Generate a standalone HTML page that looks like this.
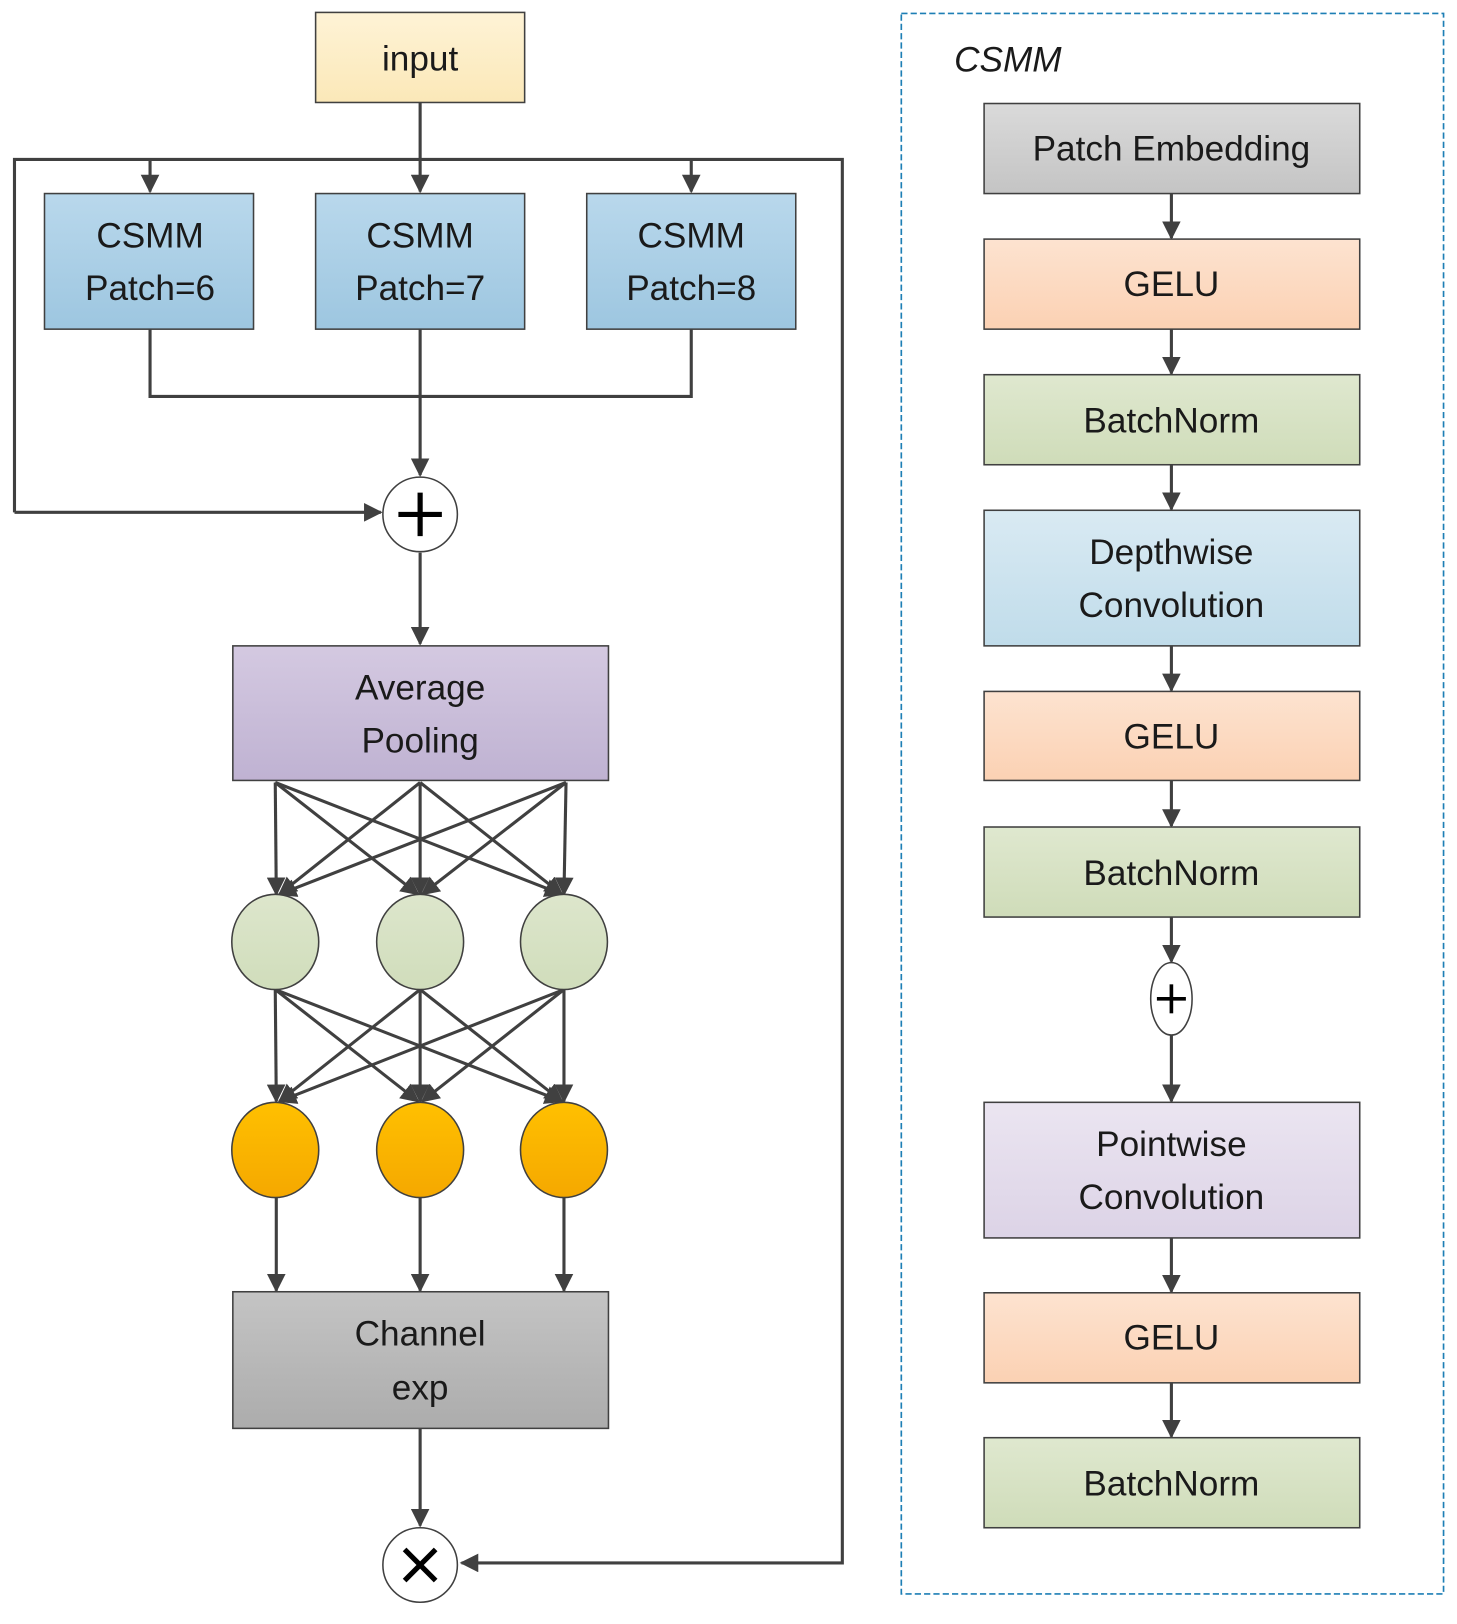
<!DOCTYPE html>
<html><head><meta charset="utf-8"><style>html,body{margin:0;padding:0;background:#fff}svg{display:block}</style></head><body>
<svg width="1457" height="1624" viewBox="0 0 1408 1569" preserveAspectRatio="none" xmlns="http://www.w3.org/2000/svg" font-family="Liberation Sans, sans-serif">
<defs>
<marker id="a" viewBox="0 0 10 10" refX="9" refY="5" markerWidth="7" markerHeight="7" markerUnits="userSpaceOnUse" orient="auto"><path d="M0,0 L10,5 L0,10 z" fill="#404040"/></marker>
<marker id="b" viewBox="0 0 10 10" refX="9" refY="5" markerWidth="18" markerHeight="18" markerUnits="userSpaceOnUse" orient="auto"><path d="M0,0 L10,5 L0,10 z" fill="#404040"/></marker>
<linearGradient id="gy" x1="0" y1="0" x2="0" y2="1"><stop offset="0" stop-color="#fef3d6"/><stop offset="1" stop-color="#fbe8b8"/></linearGradient>
<linearGradient id="gb" x1="0" y1="0" x2="0" y2="1"><stop offset="0" stop-color="#b9d8ec"/><stop offset="1" stop-color="#9dc6e0"/></linearGradient>
<linearGradient id="gp" x1="0" y1="0" x2="0" y2="1"><stop offset="0" stop-color="#d4c9e1"/><stop offset="1" stop-color="#bfb2d2"/></linearGradient>
<linearGradient id="gg" x1="0" y1="0" x2="0" y2="1"><stop offset="0" stop-color="#dde6cc"/><stop offset="1" stop-color="#d0ddbb"/></linearGradient>
<linearGradient id="go" x1="0" y1="0" x2="0" y2="1"><stop offset="0" stop-color="#ffc000"/><stop offset="1" stop-color="#f5a800"/></linearGradient>
<linearGradient id="gc" x1="0" y1="0" x2="0" y2="1"><stop offset="0" stop-color="#c4c4c4"/><stop offset="1" stop-color="#acacac"/></linearGradient>
<linearGradient id="gpe" x1="0" y1="0" x2="0" y2="1"><stop offset="0" stop-color="#dadada"/><stop offset="1" stop-color="#c4c4c4"/></linearGradient>
<linearGradient id="gge" x1="0" y1="0" x2="0" y2="1"><stop offset="0" stop-color="#fde3d0"/><stop offset="1" stop-color="#fbd1b3"/></linearGradient>
<linearGradient id="gbn" x1="0" y1="0" x2="0" y2="1"><stop offset="0" stop-color="#dfe8cf"/><stop offset="1" stop-color="#cfdcb9"/></linearGradient>
<linearGradient id="gdw" x1="0" y1="0" x2="0" y2="1"><stop offset="0" stop-color="#d9eaf3"/><stop offset="1" stop-color="#c0dcea"/></linearGradient>
<linearGradient id="gpw" x1="0" y1="0" x2="0" y2="1"><stop offset="0" stop-color="#ebe5f1"/><stop offset="1" stop-color="#dcd3e6"/></linearGradient>
</defs>
<g stroke="#404040" stroke-width="3" fill="none">
<!-- loop -->
<polyline points="14,495 14,154 814,154 814,1510 446,1510" marker-end="url(#b)"/>
<line x1="14" y1="495" x2="368" y2="495" marker-end="url(#b)"/>
<line x1="406" y1="99" x2="406" y2="185" marker-end="url(#b)"/>
<line x1="145" y1="154" x2="145" y2="185" marker-end="url(#b)"/>
<line x1="668" y1="154" x2="668" y2="185" marker-end="url(#b)"/>
<polyline points="145,318 145,383 668,383 668,318"/>
<line x1="406" y1="318" x2="406" y2="459" marker-end="url(#b)"/>
<line x1="406" y1="534" x2="406" y2="622" marker-end="url(#b)"/>
<line x1="406" y1="1380" x2="406" y2="1474" marker-end="url(#b)"/>
<!-- fc layers -->
<g marker-end="url(#b)">
<line x1="266" y1="756" x2="267" y2="864"/><line x1="266" y1="756" x2="404" y2="864"/><line x1="266" y1="756" x2="543" y2="864"/>
<line x1="406" y1="756" x2="270" y2="864"/><line x1="406" y1="756" x2="406" y2="864"/><line x1="406" y1="756" x2="543" y2="864"/>
<line x1="547" y1="756" x2="270" y2="864"/><line x1="547" y1="756" x2="408" y2="864"/><line x1="547" y1="756" x2="545" y2="864"/>
<line x1="266" y1="956" x2="267" y2="1064"/><line x1="266" y1="956" x2="404" y2="1064"/><line x1="266" y1="956" x2="543" y2="1064"/>
<line x1="406" y1="956" x2="270" y2="1064"/><line x1="406" y1="956" x2="406" y2="1064"/><line x1="406" y1="956" x2="543" y2="1064"/>
<line x1="545" y1="956" x2="270" y2="1064"/><line x1="545" y1="956" x2="408" y2="1064"/><line x1="545" y1="956" x2="545" y2="1064"/>
<line x1="267" y1="1157" x2="267" y2="1247"/><line x1="406" y1="1157" x2="406" y2="1247"/><line x1="545" y1="1157" x2="545" y2="1247"/>
</g>
<!-- right arrows -->
<g marker-end="url(#b)">
<line x1="1132" y1="187" x2="1132" y2="230"/><line x1="1132" y1="318" x2="1132" y2="361"/><line x1="1132" y1="449" x2="1132" y2="492"/>
<line x1="1132" y1="624" x2="1132" y2="667"/><line x1="1132" y1="754" x2="1132" y2="798"/><line x1="1132" y1="886" x2="1132" y2="929"/>
<line x1="1132" y1="1000" x2="1132" y2="1064"/><line x1="1132" y1="1196" x2="1132" y2="1248"/><line x1="1132" y1="1336" x2="1132" y2="1388"/>
</g>
</g>
<g stroke="#404040" stroke-width="1.5">
<rect x="305" y="12" width="202" height="87" fill="url(#gy)"/>
<rect x="43" y="187" width="202" height="131" fill="url(#gb)"/>
<rect x="305" y="187" width="202" height="131" fill="url(#gb)"/>
<rect x="567" y="187" width="202" height="131" fill="url(#gb)"/>
<circle cx="406" cy="497" r="36" fill="#fff"/>
<rect x="225" y="624" width="363" height="130" fill="url(#gp)"/>
<ellipse cx="266" cy="910" rx="42" ry="46" fill="url(#gg)"/><ellipse cx="406" cy="910" rx="42" ry="46" fill="url(#gg)"/><ellipse cx="545" cy="910" rx="42" ry="46" fill="url(#gg)"/>
<ellipse cx="266" cy="1111" rx="42" ry="46" fill="url(#go)"/><ellipse cx="406" cy="1111" rx="42" ry="46" fill="url(#go)"/><ellipse cx="545" cy="1111" rx="42" ry="46" fill="url(#go)"/>
<rect x="225" y="1248" width="363" height="132" fill="url(#gc)"/>
<circle cx="406" cy="1512" r="36" fill="#fff"/>
<rect x="951" y="100" width="363" height="87" fill="url(#gpe)"/>
<rect x="951" y="231" width="363" height="87" fill="url(#gge)"/>
<rect x="951" y="362" width="363" height="87" fill="url(#gbn)"/>
<rect x="951" y="493" width="363" height="131" fill="url(#gdw)"/>
<rect x="951" y="668" width="363" height="86" fill="url(#gge)"/>
<rect x="951" y="799" width="363" height="87" fill="url(#gbn)"/>
<ellipse cx="1132" cy="965" rx="20" ry="35" fill="#fff"/>
<rect x="951" y="1065" width="363" height="131" fill="url(#gpw)"/>
<rect x="951" y="1249" width="363" height="87" fill="url(#gge)"/>
<rect x="951" y="1389" width="363" height="87" fill="url(#gbn)"/>
</g>
<rect x="871" y="13" width="524" height="1527" fill="none" stroke="#1d7fb5" stroke-width="1.6" stroke-dasharray="6,3"/>
<g stroke="#000" stroke-width="5"><line x1="385" y1="497" x2="427" y2="497"/><line x1="406" y1="476" x2="406" y2="518"/>
<line x1="391" y1="1497" x2="421" y2="1527"/><line x1="421" y1="1497" x2="391" y2="1527"/></g>
<g stroke="#000" stroke-width="3.5"><line x1="1118" y1="965" x2="1146" y2="965"/><line x1="1132" y1="951" x2="1132" y2="979"/></g>
<g fill="#1a1a1a" font-size="34" text-anchor="middle">
<text x="406" y="68">input</text>
<text x="145" y="239">CSMM</text><text x="145" y="290">Patch=6</text>
<text x="406" y="239">CSMM</text><text x="406" y="290">Patch=7</text>
<text x="668" y="239">CSMM</text><text x="668" y="290">Patch=8</text>
<text x="406" y="676">Average</text><text x="406" y="727">Pooling</text>
<text x="406" y="1300">Channel</text><text x="406" y="1352">exp</text>
<text x="1132" y="155">Patch Embedding</text>
<text x="1132" y="286">GELU</text>
<text x="1132" y="418">BatchNorm</text>
<text x="1132" y="545">Depthwise</text><text x="1132" y="596">Convolution</text>
<text x="1132" y="723">GELU</text>
<text x="1132" y="855">BatchNorm</text>
<text x="1132" y="1117">Pointwise</text><text x="1132" y="1168">Convolution</text>
<text x="1132" y="1304">GELU</text>
<text x="1132" y="1445">BatchNorm</text>
<text x="922" y="69" text-anchor="start" font-style="italic">CSMM</text>
</g>
</svg>
</body></html>
